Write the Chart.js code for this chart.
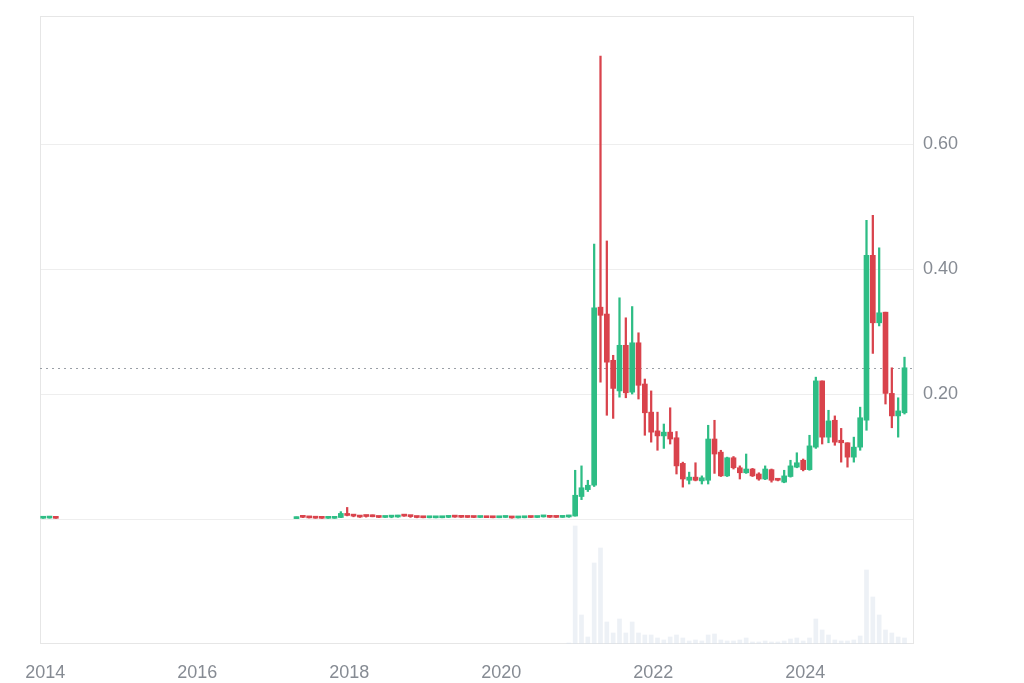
<!DOCTYPE html>
<html lang="en">
<head>
<meta charset="UTF-8">
<title>Monthly candles</title>
<script src="https://cdn.jsdelivr.net/npm/chart.js"></script>
<style>
  html, body { margin: 0; padding: 0; background: #fff; }
</style>
</head>
<body>
<canvas id="chart" width="1024" height="683"></canvas>
<script>
// month categories: 2014-01 ... 2025-06
const firstYear = 2014, lastYear = 2025, lastMonth = 6;
const labels = [];
for (let y = firstYear; y <= lastYear; y++) {
  for (let m = 1; m <= 12; m++) {
    if (y === lastYear && m > lastMonth) break;
    labels.push(y + '-' + String(m).padStart(2, '0'));
  }
}

// first candles, 2014-01 .. 2014-03
const open2014  = [0.0012, 0.0015, 0.0016];
const high2014  = [0.0019, 0.0017, 0.0017];
const low2014   = [0.0010, 0.0013, 0.0010];
const close2014 = [0.0015, 0.0016, 0.0011];

// candles 2017-05 .. 2025-05 (one per month)
const openP = [
  0.0006, 0.0031, 0.0027, 0.0018, 0.0013, 0.0011, 0.0011, 0.0024,
  0.0089, 0.0057, 0.0046, 0.0047, 0.0040, 0.0036, 0.0025, 0.0030, 0.0032, 0.0056, 0.0046, 0.0032,
  0.0024, 0.0020, 0.0019, 0.0020, 0.0026, 0.0032, 0.0030, 0.0027, 0.0025, 0.0024, 0.0027, 0.0021,
  0.0020, 0.0025, 0.0026, 0.0017, 0.0020, 0.0025, 0.0024, 0.0034, 0.0035, 0.0027, 0.0026, 0.0033,
  0.0047, 0.036, 0.047, 0.054, 0.339, 0.328, 0.254, 0.205, 0.278, 0.203, 0.282, 0.216,
  0.171, 0.141, 0.133, 0.139, 0.130, 0.089, 0.062, 0.067, 0.061, 0.062, 0.128, 0.107,
  0.069, 0.098, 0.082, 0.074, 0.080, 0.072, 0.064, 0.079, 0.064, 0.059, 0.068, 0.083,
  0.094, 0.079, 0.115, 0.221, 0.131, 0.158, 0.126, 0.122, 0.099, 0.115, 0.158, 0.422,
  0.314, 0.331, 0.201, 0.165, 0.170
];
const highP = [
  0.0034, 0.0038, 0.0029, 0.0022, 0.0014, 0.0012, 0.0025, 0.0118,
  0.0185, 0.0068, 0.0050, 0.0060, 0.0065, 0.0040, 0.0034, 0.0034, 0.0060, 0.0060, 0.0058, 0.0036,
  0.0025, 0.0022, 0.0021, 0.0034, 0.0035, 0.0038, 0.0035, 0.0028, 0.0026, 0.0027, 0.0029, 0.0022,
  0.0025, 0.0031, 0.0027, 0.0021, 0.0027, 0.0027, 0.0041, 0.0040, 0.0036, 0.0028, 0.0037, 0.0060,
  0.078, 0.085, 0.062, 0.440, 0.741, 0.445, 0.262, 0.354, 0.322, 0.340, 0.298, 0.224,
  0.205, 0.171, 0.152, 0.178, 0.140, 0.091, 0.075, 0.090, 0.069, 0.150, 0.158, 0.110,
  0.099, 0.100, 0.085, 0.104, 0.081, 0.074, 0.085, 0.080, 0.065, 0.078, 0.094, 0.106,
  0.096, 0.134, 0.227, 0.221, 0.174, 0.165, 0.145, 0.122, 0.131, 0.179, 0.478, 0.486,
  0.434, 0.331, 0.242, 0.194, 0.259
];
const lowP = [
  0.0006, 0.0022, 0.0016, 0.0011, 0.0009, 0.0010, 0.0010, 0.0021,
  0.0050, 0.0035, 0.0025, 0.0030, 0.0035, 0.0023, 0.0024, 0.0020, 0.0028, 0.0043, 0.0026, 0.0019,
  0.0019, 0.0018, 0.0018, 0.0019, 0.0022, 0.0028, 0.0025, 0.0024, 0.0021, 0.0023, 0.0021, 0.0019,
  0.0020, 0.0024, 0.0013, 0.0016, 0.0019, 0.0024, 0.0024, 0.0031, 0.0025, 0.0024, 0.0025, 0.0027,
  0.0046, 0.031, 0.044, 0.052, 0.219, 0.166, 0.161, 0.195, 0.194, 0.200, 0.192, 0.134,
  0.123, 0.110, 0.113, 0.120, 0.072, 0.051, 0.056, 0.061, 0.056, 0.056, 0.073, 0.068,
  0.068, 0.080, 0.064, 0.073, 0.068, 0.062, 0.063, 0.059, 0.061, 0.058, 0.067, 0.082,
  0.077, 0.078, 0.113, 0.120, 0.122, 0.118, 0.091, 0.083, 0.091, 0.110, 0.142, 0.265,
  0.309, 0.184, 0.146, 0.131, 0.168
];
const closeP = [
  0.0031, 0.0027, 0.0018, 0.0013, 0.0011, 0.0011, 0.0024, 0.0089,
  0.0057, 0.0046, 0.0031, 0.0040, 0.0036, 0.0025, 0.0030, 0.0032, 0.0056, 0.0046, 0.0038, 0.0024,
  0.0020, 0.0021, 0.0020, 0.0026, 0.0032, 0.0030, 0.0027, 0.0025, 0.0024, 0.0027, 0.0021, 0.0020,
  0.0025, 0.0026, 0.0017, 0.0020, 0.0025, 0.0024, 0.0034, 0.0035, 0.0027, 0.0026, 0.0033, 0.0047,
  0.038, 0.050, 0.054, 0.338, 0.326, 0.251, 0.209, 0.278, 0.202, 0.282, 0.214, 0.170,
  0.139, 0.133, 0.139, 0.128, 0.085, 0.064, 0.067, 0.062, 0.066, 0.128, 0.104, 0.069,
  0.098, 0.082, 0.074, 0.080, 0.069, 0.064, 0.080, 0.062, 0.062, 0.069, 0.085, 0.090,
  0.079, 0.117, 0.221, 0.131, 0.157, 0.123, 0.122, 0.099, 0.115, 0.162, 0.422, 0.314,
  0.330, 0.201, 0.165, 0.173, 0.242
];

// volume 2020-12 .. 2025-05 (relative units)
const volumeP = [
  1,
  118, 29, 7, 81, 96, 22, 11, 25, 11, 22, 11, 9,
  9, 6, 4, 7, 9, 6, 3, 4, 3, 9, 10, 4,
  3, 3, 4, 6, 2, 2, 3, 2, 2, 3, 5, 6,
  3, 6, 25, 14, 9, 4, 3, 3, 4, 8, 74, 47,
  29, 14, 11, 7, 6
];

const currentPrice = 0.242;
const priceTicks = [0, 0.2, 0.4, 0.6];

const upColor = '#2ebd85';
const downColor = '#d9434c';
const textColor = '#868b93';
const gridColor = '#eeeeee';

function place(series2014, seriesMain) {
  const out = labels.map(() => null);
  series2014.forEach((v, i) => { out[labels.indexOf('2014-01') + i] = v; });
  seriesMain.forEach((v, i) => { out[labels.indexOf('2017-05') + i] = v; });
  return out;
}
const open = place(open2014, openP);
const high = place(high2014, highP);
const low = place(low2014, lowP);
const close = place(close2014, closeP);

const volume = labels.map(() => null);
volumeP.forEach((v, i) => { volume[labels.indexOf('2020-12') + i] = v; });

const bodies = open.map((o, i) => o == null ? null : [o, close[i]]);
const wicks = open.map((o, i) => o == null ? null : [low[i], high[i]]);
const colors = open.map((o, i) => (o != null && close[i] >= o) ? upColor : downColor);

const framePlugin = {
  id: 'frame',
  beforeDatasetsDraw(chart) {
    const { ctx, chartArea: a } = chart;
    ctx.save();
    ctx.strokeStyle = '#e6e6e6';
    ctx.lineWidth = 1;
    ctx.strokeRect(a.left + 0.5, a.top + 0.5, a.right - a.left - 1, a.bottom - a.top - 1);
    // current price, dotted
    const y = Math.round(chart.scales.y.getPixelForValue(currentPrice)) + 0.5;
    ctx.strokeStyle = '#9a9fa6';
    ctx.setLineDash([2, 4]);
    ctx.beginPath();
    ctx.moveTo(a.left, y);
    ctx.lineTo(a.right, y);
    ctx.stroke();
    ctx.restore();
  }
};

function fitRight(s) {
  s.width = 110;
  s.paddingTop = 0;
  s.paddingBottom = 0;
}

new Chart(document.getElementById('chart'), {
  type: 'bar',
  data: {
    labels: labels,
    datasets: [
      { data: wicks, backgroundColor: colors, yAxisID: 'y', grouped: false, barThickness: 1.6, order: 1 },
      { data: bodies, backgroundColor: colors, yAxisID: 'y', grouped: false, barThickness: 5, minBarLength: 2, order: 0 },
      { data: volume, backgroundColor: 'rgba(214,223,236,0.45)', yAxisID: 'yv', grouped: false, barThickness: 4, order: 2 }
    ]
  },
  options: {
    responsive: false,
    animation: false,
    layout: { padding: { left: 40, top: 16, right: 0, bottom: 0 } },
    plugins: { legend: { display: false }, tooltip: { enabled: false } },
    scales: {
      x: {
        grid: { display: false },
        border: { display: false },
        ticks: {
          autoSkip: false,
          maxRotation: 0,
          padding: 10,
          labelOffset: 2,
          color: textColor,
          font: { family: 'Liberation Sans, Arial, sans-serif', size: 18 },
          callback: function (value, index) {
            const [y, m] = labels[index].split('-');
            return (m === '01' && Number(y) % 2 === 0) ? y : '';
          }
        },
        afterFit: s => { s.height = 39; s.paddingLeft = 0; s.paddingRight = 0; }
      },
      y: {
        position: 'right',
        stack: 'panes',
        stackWeight: 503,
        min: 0,
        max: 0.805,
        afterBuildTicks: s => { s.ticks = priceTicks.map(v => ({ value: v })); },
        grid: { color: gridColor, drawTicks: false },
        border: { display: false },
        ticks: {
          padding: 9,
          color: textColor,
          font: { family: 'Liberation Sans, Arial, sans-serif', size: 18 },
          callback: v => v === 0 ? '' : v.toFixed(2)
        },
        afterFit: fitRight
      },
      yv: {
        position: 'right',
        stack: 'panes',
        stackWeight: 125,
        min: 0,
        max: 125,
        grid: { display: false },
        border: { display: false },
        ticks: { display: false },
        afterFit: fitRight
      }
    }
  },
  plugins: [framePlugin]
});
</script>
</body>
</html>
